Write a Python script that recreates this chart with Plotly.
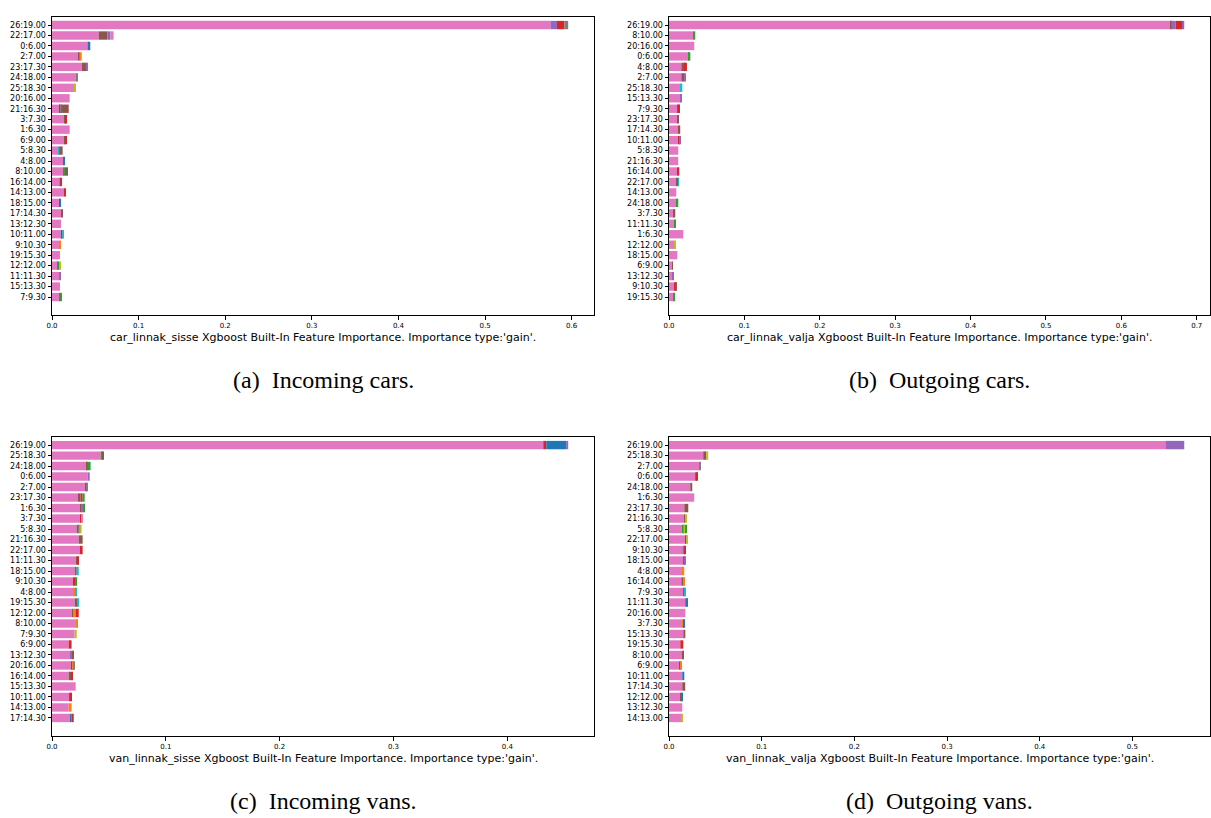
import plotly.graph_objects as go

W, H = 1211, 818

# tab10 palette used for the stacked segments
COLORS = {
    "blue": "#1f77b4", "orange": "#ff7f0e", "green": "#2ca02c", "red": "#d62728",
    "purple": "#9467bd", "brown": "#8c564b", "pink": "#e377c2", "gray": "#7f7f7f",
    "olive": "#bcbd22", "cyan": "#17becf",
}

# ---------------- (a) incoming cars ----------------
CARS_IN_LABELS = ["26:19.00", "22:17.00", "0:6.00", "2:7.00", "23:17.30", "24:18.00", "25:18.30",
                  "20:16.00", "21:16.30", "3:7.30", "1:6.30", "6:9.00", "5:8.30", "4:8.00",
                  "8:10.00", "16:14.00", "14:13.00", "18:15.00", "17:14.30", "13:12.30",
                  "10:11.00", "9:10.30", "19:15.30", "12:12.00", "11:11.30", "15:13.30", "7:9.30"]
CARS_IN_SEGMENTS = [
    [("pink", 0.5755), ("purple", 0.0075), ("red", 0.0087), ("gray", 0.0043)],
    [("pink", 0.0538), ("brown", 0.0100), ("purple", 0.0038), ("pink", 0.0035)],
    [("pink", 0.0408), ("orange", 0.0015), ("blue", 0.0019)],
    [("pink", 0.0308), ("brown", 0.0008), ("orange", 0.0027)],
    [("pink", 0.0342), ("brown", 0.0058), ("purple", 0.0008)],
    [("pink", 0.0285), ("gray", 0.0008)],
    [("pink", 0.0265), ("olive", 0.0008)],
    [("pink", 0.0204)],
    [("pink", 0.0088), ("red", 0.0012), ("gray", 0.0008), ("brown", 0.0085)],
    [("pink", 0.0146), ("brown", 0.0008), ("red", 0.0015)],
    [("pink", 0.0204)],
    [("pink", 0.0146), ("brown", 0.0008), ("red", 0.0015)],
    [("pink", 0.0077), ("cyan", 0.0008), ("brown", 0.0038)],
    [("pink", 0.0131), ("blue", 0.0012)],
    [("pink", 0.0127), ("green", 0.0023), ("brown", 0.0035)],
    [("pink", 0.0081), ("cyan", 0.0012), ("red", 0.0023)],
    [("pink", 0.0135), ("red", 0.0027)],
    [("pink", 0.0092), ("blue", 0.0012)],
    [("pink", 0.0104), ("brown", 0.0012)],
    [("pink", 0.0104)],
    [("pink", 0.0104), ("brown", 0.0010), ("red", 0.0009), ("cyan", 0.0012)],
    [("pink", 0.0081), ("orange", 0.0012)],
    [("pink", 0.0092)],
    [("pink", 0.0069), ("green", 0.0012), ("olive", 0.0012)],
    [("pink", 0.0081), ("purple", 0.0012)],
    [("pink", 0.0092)],
    [("pink", 0.0092), ("green", 0.0023)],
]

# ---------------- (b) outgoing cars ----------------
CARS_OUT_LABELS = ["26:19.00", "8:10.00", "20:16.00", "0:6.00", "4:8.00", "2:7.00", "25:18.30",
                   "15:13.30", "7:9.30", "23:17.30", "17:14.30", "10:11.00", "5:8.30", "21:16.30",
                   "16:14.00", "22:17.00", "14:13.00", "24:18.00", "3:7.30", "11:11.30", "1:6.30",
                   "12:12.00", "18:15.00", "6:9.00", "13:12.30", "9:10.30", "19:15.30"]
CARS_OUT_SEGMENTS = [
    [("pink", 0.6650), ("brown", 0.0013), ("purple", 0.0057), ("red", 0.0088), ("purple", 0.0026)],
    [("pink", 0.0322), ("green", 0.0026)],
    [("pink", 0.0335)],
    [("pink", 0.0256), ("brown", 0.0009), ("green", 0.0018)],
    [("pink", 0.0163), ("brown", 0.0049), ("red", 0.0026)],
    [("pink", 0.0163), ("brown", 0.0040), ("purple", 0.0013)],
    [("pink", 0.0159), ("cyan", 0.0018)],
    [("pink", 0.0150), ("purple", 0.0013)],
    [("pink", 0.0110), ("brown", 0.0013), ("red", 0.0013)],
    [("pink", 0.0110), ("brown", 0.0013)],
    [("pink", 0.0123), ("brown", 0.0026)],
    [("pink", 0.0123), ("red", 0.0013), ("purple", 0.0013)],
    [("pink", 0.0123)],
    [("pink", 0.0123)],
    [("pink", 0.0110), ("red", 0.0026)],
    [("pink", 0.0097), ("brown", 0.0026), ("cyan", 0.0009)],
    [("pink", 0.0097)],
    [("pink", 0.0097), ("green", 0.0026)],
    [("pink", 0.0057), ("brown", 0.0026)],
    [("pink", 0.0071), ("green", 0.0013)],
    [("pink", 0.0190)],
    [("pink", 0.0071), ("olive", 0.0013)],
    [("pink", 0.0110)],
    [("pink", 0.0044), ("brown", 0.0009)],
    [("pink", 0.0044), ("purple", 0.0022)],
    [("pink", 0.0071), ("red", 0.0009), ("brown", 0.0013)],
    [("pink", 0.0057), ("green", 0.0013)],
]

# ---------------- (c) incoming vans ----------------
VANS_IN_LABELS = ["26:19.00", "25:18.30", "24:18.00", "0:6.00", "2:7.00", "23:17.30", "1:6.30",
                  "3:7.30", "5:8.30", "21:16.30", "22:17.00", "11:11.30", "18:15.00", "9:10.30",
                  "4:8.00", "19:15.30", "12:12.00", "8:10.00", "7:9.30", "6:9.00", "13:12.30",
                  "20:16.00", "16:14.00", "15:13.30", "10:11.00", "14:13.00", "17:14.30"]
VANS_IN_SEGMENTS = [
    [("pink", 0.4316), ("red", 0.0026), ("blue", 0.0175), ("purple", 0.0018)],
    [("pink", 0.0427), ("green", 0.0018), ("brown", 0.0009)],
    [("pink", 0.0304), ("brown", 0.0006), ("green", 0.0029)],
    [("pink", 0.0313), ("purple", 0.0018)],
    [("pink", 0.0295), ("brown", 0.0009), ("gray", 0.0006)],
    [("pink", 0.0225), ("brown", 0.0026), ("red", 0.0018), ("green", 0.0018)],
    [("pink", 0.0243), ("brown", 0.0018), ("purple", 0.0012), ("green", 0.0015)],
    [("pink", 0.0251), ("red", 0.0009), ("pink", 0.0009)],
    [("pink", 0.0216), ("brown", 0.0018), ("gray", 0.0006), ("olive", 0.0020)],
    [("pink", 0.0234), ("brown", 0.0035)],
    [("pink", 0.0243), ("red", 0.0026)],
    [("pink", 0.0208), ("brown", 0.0018), ("red", 0.0009)],
    [("pink", 0.0199), ("brown", 0.0018), ("cyan", 0.0018)],
    [("pink", 0.0190), ("red", 0.0015), ("green", 0.0012)],
    [("pink", 0.0190), ("orange", 0.0015), ("cyan", 0.0012)],
    [("pink", 0.0199), ("brown", 0.0026), ("cyan", 0.0009)],
    [("pink", 0.0173), ("brown", 0.0018), ("orange", 0.0015), ("red", 0.0029)],
    [("pink", 0.0216), ("orange", 0.0009)],
    [("pink", 0.0199), ("olive", 0.0018)],
    [("pink", 0.0146), ("red", 0.0026)],
    [("pink", 0.0164), ("purple", 0.0015), ("brown", 0.0009)],
    [("pink", 0.0173), ("red", 0.0009), ("orange", 0.0006), ("gray", 0.0012)],
    [("pink", 0.0146), ("brown", 0.0023), ("red", 0.0012)],
    [("pink", 0.0208)],
    [("pink", 0.0155), ("brown", 0.0009), ("red", 0.0009)],
    [("pink", 0.0146), ("orange", 0.0026)],
    [("pink", 0.0155), ("blue", 0.0018), ("red", 0.0018)],
]

# ---------------- (d) outgoing vans ----------------
VANS_OUT_LABELS = ["26:19.00", "25:18.30", "2:7.00", "0:6.00", "24:18.00", "1:6.30", "23:17.30",
                   "21:16.30", "5:8.30", "22:17.00", "9:10.30", "18:15.00", "4:8.00", "16:14.00",
                   "7:9.30", "11:11.30", "20:16.00", "3:7.30", "15:13.30", "19:15.30", "8:10.00",
                   "6:9.00", "10:11.00", "17:14.30", "12:12.00", "13:12.30", "14:13.00"]
VANS_OUT_SEGMENTS = [
    [("pink", 0.5355), ("purple", 0.0204)],
    [("pink", 0.0369), ("brown", 0.0032), ("olive", 0.0022)],
    [("pink", 0.0326), ("gray", 0.0011)],
    [("pink", 0.0283), ("green", 0.0011), ("red", 0.0011)],
    [("pink", 0.0229), ("brown", 0.0022)],
    [("pink", 0.0272)],
    [("pink", 0.0165), ("brown", 0.0043)],
    [("pink", 0.0168), ("brown", 0.0004), ("olive", 0.0022)],
    [("pink", 0.0143), ("green", 0.0011), ("cyan", 0.0018), ("olive", 0.0011), ("green", 0.0006)],
    [("pink", 0.0176), ("red", 0.0011), ("orange", 0.0007), ("olive", 0.0011)],
    [("pink", 0.0143), ("purple", 0.0029), ("red", 0.0011)],
    [("pink", 0.0154), ("brown", 0.0011), ("purple", 0.0011)],
    [("pink", 0.0150), ("orange", 0.0014)],
    [("pink", 0.0133), ("brown", 0.0022), ("orange", 0.0011)],
    [("pink", 0.0154), ("brown", 0.0011), ("cyan", 0.0011)],
    [("pink", 0.0176), ("purple", 0.0011), ("blue", 0.0011)],
    [("pink", 0.0176)],
    [("pink", 0.0143), ("orange", 0.0011), ("blue", 0.0011)],
    [("pink", 0.0154), ("brown", 0.0022)],
    [("pink", 0.0122), ("red", 0.0032)],
    [("pink", 0.0143), ("brown", 0.0011)],
    [("pink", 0.0111), ("brown", 0.0011), ("orange", 0.0011)],
    [("pink", 0.0143), ("blue", 0.0022)],
    [("pink", 0.0143), ("brown", 0.0032)],
    [("pink", 0.0122), ("brown", 0.0011), ("blue", 0.0011)],
    [("pink", 0.0143)],
    [("pink", 0.0133), ("olive", 0.0011)],
]

PANELS = [
    dict(labels=CARS_IN_LABELS, segments=CARS_IN_SEGMENTS,
         xtitle="car_linnak_sisse Xgboost Built-In Feature Importance. Importance type:'gain'.",
         caption="(a)  Incoming cars.", box=(52, 594, 17, 315)),
    dict(labels=CARS_OUT_LABELS, segments=CARS_OUT_SEGMENTS,
         xtitle="car_linnak_valja Xgboost Built-In Feature Importance. Importance type:'gain'.",
         caption="(b)  Outgoing cars.", box=(669, 1210, 17, 315)),
    dict(labels=VANS_IN_LABELS, segments=VANS_IN_SEGMENTS,
         xtitle="van_linnak_sisse Xgboost Built-In Feature Importance. Importance type:'gain'.",
         caption="(c)  Incoming vans.", box=(52, 594, 437, 736)),
    dict(labels=VANS_OUT_LABELS, segments=VANS_OUT_SEGMENTS,
         xtitle="van_linnak_valja Xgboost Built-In Feature Importance. Importance type:'gain'.",
         caption="(d)  Outgoing vans.", box=(669, 1210, 437, 736)),
]


def px_x(x):
    return x / W


def px_y(y):
    return 1 - y / H


fig = go.Figure()
annotations = []
layout = {}

for k, p in enumerate(PANELS, start=1):
    xa = "x" if k == 1 else f"x{k}"
    ya = "y" if k == 1 else f"y{k}"
    labels, segments = p["labels"], p["segments"]
    depth = max(len(s) for s in segments)
    totals = [sum(v for _, v in s) for s in segments]
    # one trace per stacking level, each bar carrying its own colour
    for lvl in range(depth):
        ys, xs, bases, cols = [], [], [], []
        for lab, seg in zip(labels, segments):
            if lvl < len(seg):
                start = sum(v for _, v in seg[:lvl])
                ys.append(lab)
                xs.append(seg[lvl][1])
                bases.append(start)
                cols.append(COLORS[seg[lvl][0]])
        fig.add_trace(go.Bar(
            y=ys, x=xs, base=bases, orientation="h", width=0.8,
            marker=dict(color=cols, line=dict(width=0)),
            xaxis=xa, yaxis=ya, showlegend=False, hoverinfo="skip",
        ))

    x0, x1, y0, y1 = p["box"]
    xmax = max(totals) * 1.05
    n = len(labels)
    axis_common = dict(showline=True, linecolor="#000000", linewidth=1, mirror=True,
                       ticks="outside", ticklen=3.5, tickwidth=0.8, tickcolor="#000000",
                       showgrid=False, zeroline=False, automargin=False)
    layout[f"xaxis{'' if k == 1 else k}"] = dict(
        domain=[px_x(x0), px_x(x1)], anchor=ya, range=[0, xmax], dtick=0.1,
        tick0=0, tickformat=".1f", tickfont=dict(family="DejaVu Sans", size=7, color="#000"),
        **axis_common)
    layout[f"yaxis{'' if k == 1 else k}"] = dict(
        domain=[px_y(y1), px_y(y0)], anchor=xa, type="category",
        categoryorder="array", categoryarray=labels,
        range=[n + 0.72, -0.77],
        tickfont=dict(family="DejaVu Sans", size=8, color="#000"),
        **axis_common)

    cx = px_x((x0 + x1) / 2)
    annotations.append(dict(text=p["xtitle"], x=cx, y=px_y(y1 + 22), xref="paper", yref="paper",
                            xanchor="center", yanchor="middle", showarrow=False,
                            font=dict(family="DejaVu Sans", size=11, color="#000")))
    annotations.append(dict(text=p["caption"], x=cx, y=px_y(y1 + 65), xref="paper", yref="paper",
                            xanchor="center", yanchor="middle", showarrow=False,
                            font=dict(family="Liberation Serif", size=24, color="#000")))

fig.update_layout(
    width=W, height=H, margin=dict(l=0, r=0, t=0, b=0),
    paper_bgcolor="white", plot_bgcolor="white", barmode="overlay",
    annotations=annotations, **layout,
)

fig.write_html("out.html")
